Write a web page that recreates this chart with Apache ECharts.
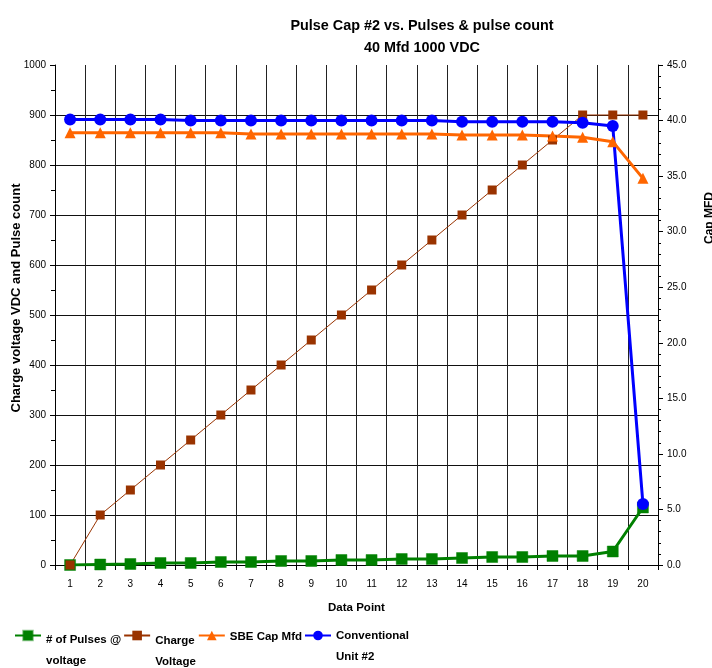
<!DOCTYPE html>
<html>
<head>
<meta charset="utf-8">
<title>Pulse Cap #2 vs. Pulses & pulse count</title>
<script src="https://cdn.jsdelivr.net/npm/echarts@6/dist/echarts.min.js"></script>
<style>
  html, body { margin: 0; padding: 0; background: #fff; }
  #chart { width: 712px; height: 668px; }
</style>
</head>
<body>
<div id="chart"></div>
<script>
// Data points along the test run
const dataPoints = ['1','2','3','4','5','6','7','8','9','10','11','12','13','14','15','16','17','18','19','20'];

// Left axis values (VDC / count)
const pulsesAtVoltage = [0, 1, 2, 4, 4, 6, 6, 8, 8, 10, 10, 12, 12, 14, 16, 16, 18, 18, 27, 115];
const chargeVoltage   = [0, 100, 150, 200, 250, 300, 350, 400, 450, 500, 550, 600, 650, 700, 750, 800, 850, 900, 900, 900];

// Right axis values (capacitance, MFD)
const sbeCapMfd       = [38.9, 38.9, 38.9, 38.9, 38.9, 38.9, 38.8, 38.8, 38.8, 38.8, 38.8, 38.8, 38.8, 38.7, 38.7, 38.7, 38.6, 38.5, 38.1, 34.8];
const conventionalCap = [40.1, 40.1, 40.1, 40.1, 40.0, 40.0, 40.0, 40.0, 40.0, 40.0, 40.0, 40.0, 40.0, 39.9, 39.9, 39.9, 39.9, 39.8, 39.5, 5.5];

const seriesNames = ['# of Pulses @\nvoltage', 'Charge\nVoltage', 'SBE Cap Mfd', 'Conventional\nUnit #2'];

const FONT = '"Liberation Sans", Arial, sans-serif';

// Legend labels hang below the marker: a spacer line of the given height
// pushes the wrapped label down relative to the icon.
const legendSpacer = {};
legendSpacer[seriesNames[0]] = 'g30';
legendSpacer[seriesNames[1]] = 'g32';
legendSpacer[seriesNames[2]] = 'g2';
legendSpacer[seriesNames[3]] = 'g22';

const chart = echarts.init(document.getElementById('chart'), null, { renderer: 'canvas' });

chart.setOption({
  animation: false,
  backgroundColor: '#fff',
  title: {
    text: 'Pulse Cap #2 vs. Pulses & pulse count\n40 Mfd 1000 VDC',
    left: 417, top: 10, textAlign: 'center',
    textStyle: { fontFamily: FONT, fontWeight: 'bold', fontSize: 14.4, lineHeight: 22, color: '#000' }
  },
  grid: { left: 55, right: 54, top: 65, bottom: 103, containLabel: false, outerBoundsMode: 'none' },
  legend: {
    left: 14, top: 614, orient: 'horizontal', padding: 0,
    itemWidth: 26, itemHeight: 12, itemGap: 2,
    data: seriesNames,
    formatter: (name) => {
      const lines = name.split('\n').map((s) => '{t|' + s + '}').join('\n');
      return '{' + legendSpacer[name] + '| }\n' + lines;
    },
    textStyle: {
      fontFamily: FONT, fontWeight: 'bold', fontSize: 11.5, color: '#000',
      rich: {
        t: { fontFamily: FONT, fontWeight: 'bold', fontSize: 11.5, color: '#000', lineHeight: 21 },
        g2: { fontSize: 1, lineHeight: 2 },
        g22: { fontSize: 1, lineHeight: 22 },
        g30: { fontSize: 1, lineHeight: 30 },
        g32: { fontSize: 1, lineHeight: 32 }
      }
    }
  },
  xAxis: {
    type: 'category', data: dataPoints, boundaryGap: true,
    name: 'Data Point', nameLocation: 'middle', nameGap: 37,
    nameTextStyle: { fontFamily: FONT, fontWeight: 'bold', fontSize: 11.5, color: '#000' },
    axisLine: { show: true, lineStyle: { color: '#000', width: 1 } },
    axisTick: { show: true, alignWithLabel: false, length: 5, lineStyle: { color: '#000' } },
    axisLabel: { fontFamily: FONT, fontSize: 10, color: '#000', margin: 14, interval: 0 },
    splitLine: { show: true, lineStyle: { color: '#222', width: 1 } }
  },
  yAxis: [
    {
      type: 'value', min: 0, max: 1000, interval: 100, position: 'left',
      name: 'Charge voltage VDC and Pulse count', nameLocation: 'middle', nameGap: 32, nameRotate: 90,
      nameMoveOverlap: false,
      nameTextStyle: { fontFamily: FONT, fontWeight: 'bold', fontSize: 13, color: '#000', padding: [0, 0, 0, 34] },
      axisLine: { show: true, lineStyle: { color: '#000', width: 1 } },
      axisTick: { show: true, length: 5, lineStyle: { color: '#000' } },
      minorTick: { show: true, splitNumber: 2, length: 4, lineStyle: { color: '#000' } },
      axisLabel: { fontFamily: FONT, fontSize: 10, color: '#000', margin: 9,
        formatter: (v) => String(v) },
      splitLine: { show: true, showMaxLine: false, showMinLine: false, lineStyle: { color: '#111', width: 1 } }
    },
    {
      type: 'value', min: 0, max: 45, interval: 5, position: 'right',
      name: 'Cap MFD', nameLocation: 'middle', nameGap: 46, nameRotate: 90,
      nameMoveOverlap: false,
      nameTextStyle: { fontFamily: FONT, fontWeight: 'bold', fontSize: 12, color: '#000', padding: [0, 0, 0, 194] },
      axisLine: { show: true, lineStyle: { color: '#000', width: 1 } },
      axisTick: { show: true, length: 5, lineStyle: { color: '#000' } },
      minorTick: { show: true, splitNumber: 5, length: 3, lineStyle: { color: '#000' } },
      axisLabel: { fontFamily: FONT, fontSize: 10, color: '#000', margin: 9,
        formatter: (v) => v.toFixed(1) },
      splitLine: { show: false }
    }
  ],
  series: [
    {
      name: seriesNames[0], type: 'line', yAxisIndex: 0, data: pulsesAtVoltage,
      symbol: 'rect', symbolSize: 11,
      lineStyle: { color: '#008000', width: 3 },
      itemStyle: { color: '#008000', borderColor: 'rgba(0,128,0,0.45)', borderWidth: 1 }
    },
    {
      name: seriesNames[1], type: 'line', yAxisIndex: 0, data: chargeVoltage,
      symbol: 'rect', symbolSize: 9,
      lineStyle: { color: '#993300', width: 1 },
      itemStyle: { color: '#993300' }
    },
    {
      name: seriesNames[2], type: 'line', yAxisIndex: 1, data: sbeCapMfd,
      symbol: 'triangle', symbolSize: 11,
      lineStyle: { color: '#FF6600', width: 3 },
      itemStyle: { color: '#FF6600' }
    },
    {
      name: seriesNames[3], type: 'line', yAxisIndex: 1, data: conventionalCap,
      symbol: 'circle', symbolSize: 12,
      lineStyle: { color: '#0000FF', width: 3 },
      itemStyle: { color: '#0000FF' }
    }
  ]
});
</script>
</body>
</html>
